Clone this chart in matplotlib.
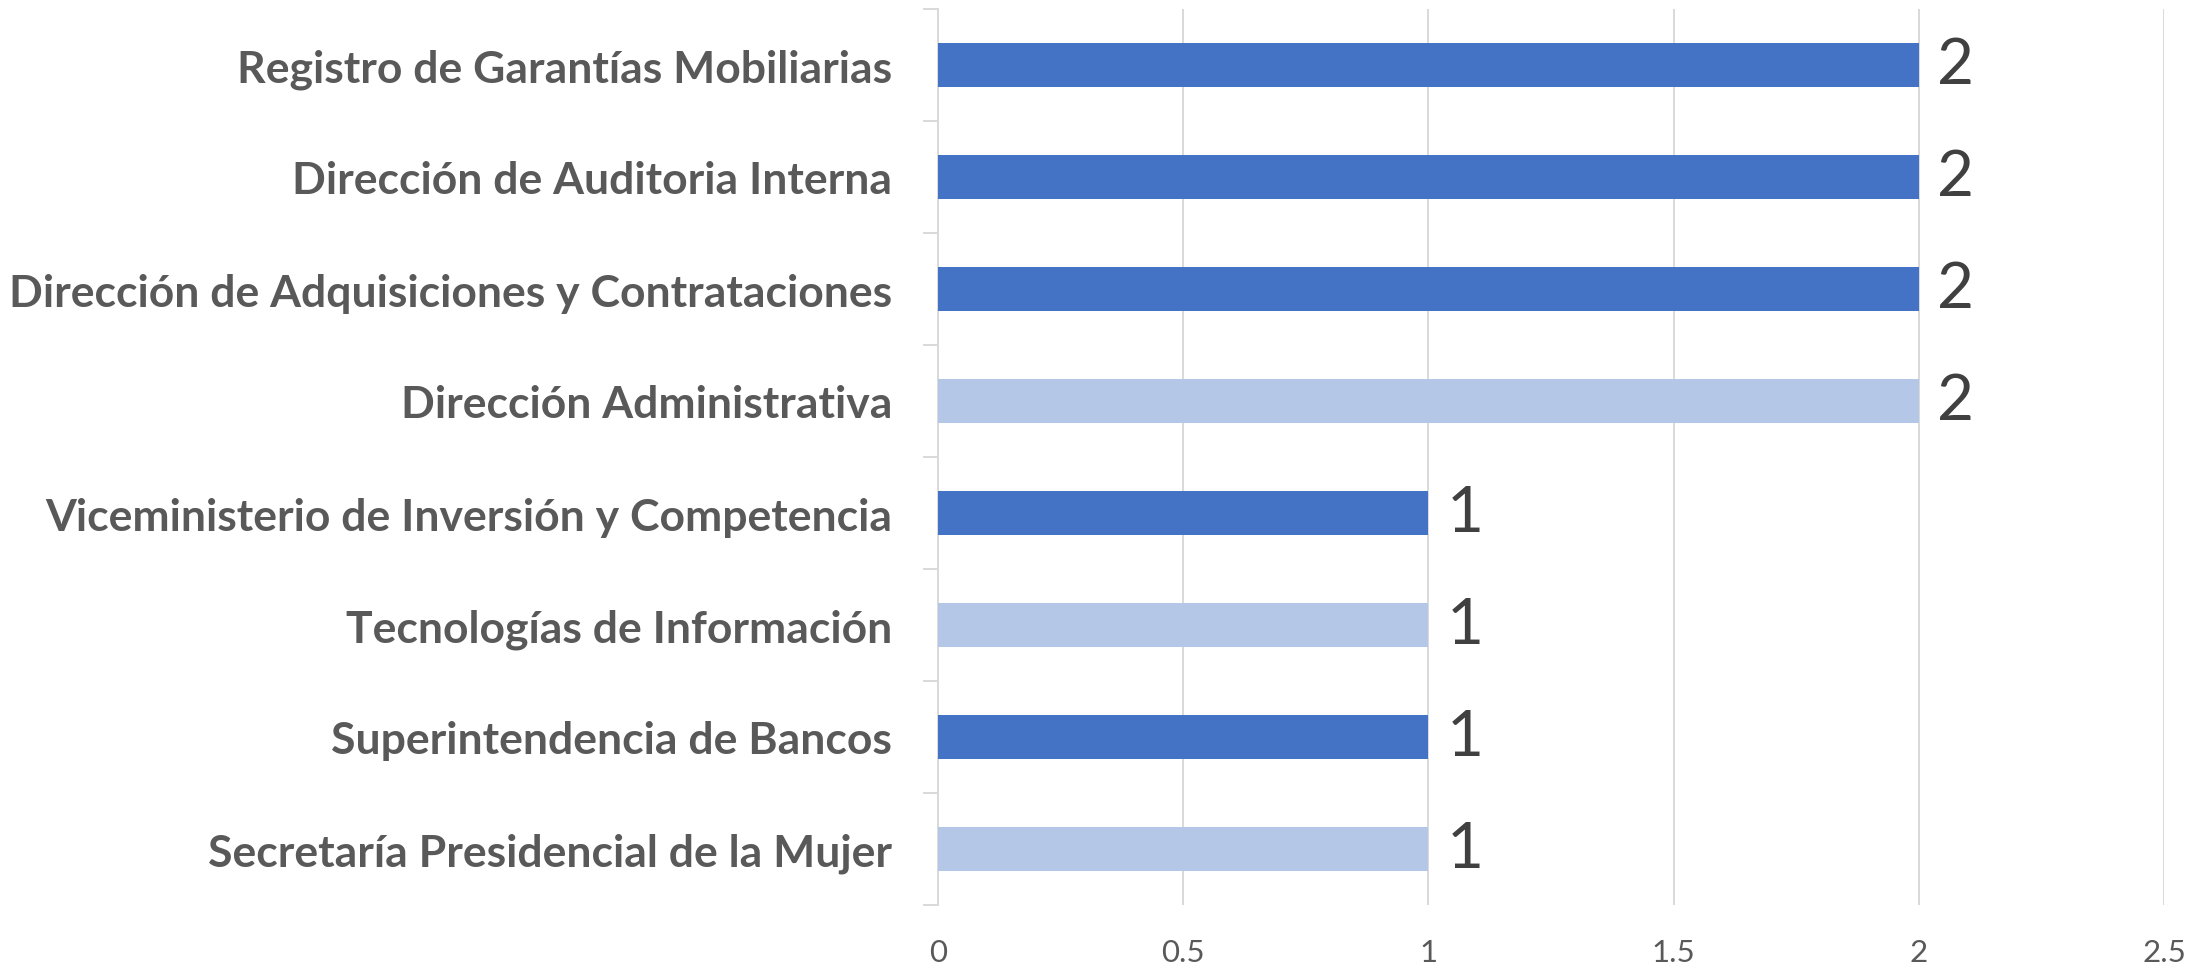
import matplotlib
matplotlib.use("Agg")
import matplotlib.pyplot as plt

categories = [
    "Registro de Garantías Mobiliarias",
    "Dirección de Auditoria Interna",
    "Dirección de Adquisiciones y Contrataciones",
    "Dirección Administrativa",
    "Viceministerio de Inversión y Competencia",
    "Tecnologías de Información",
    "Superintendencia de Bancos",
    "Secretaría Presidencial de la Mujer",
]
values = [2, 2, 2, 2, 1, 1, 1, 1]
shades = ["dark", "dark", "dark", "light", "dark", "light", "dark", "light"]
x_ticks = [0, 0.5, 1, 1.5, 2, 2.5]
x_tick_labels = ["0", "0.5", "1", "1.5", "2", "2.5"]

palette = {"dark": "#4472C4", "light": "#B4C7E7"}
grid_col = "#D9D9D9"

plt.rcParams["font.family"] = ["Lato", "DejaVu Sans"]

fig = plt.figure(figsize=(21.99, 9.70), dpi=100)
ax = fig.add_axes([938 / 2199, (970 - 906) / 970, (2164 - 938) / 2199, (906 - 10) / 970])

ypos = list(range(len(categories)))
ax.barh(ypos, values, height=0.40, color=[palette[s] for s in shades], zorder=3)

for y, v in zip(ypos, values):
    ax.annotate(str(v), xy=(v, y), xytext=(13, 0), textcoords="offset points",
                ha="left", va="center", fontsize=46, color="#404040", zorder=4)

ax.set_xlim(0, 2.5)
ax.set_ylim(len(categories) - 0.5, -0.5)

ax.set_xticks(x_ticks)
ax.set_xticklabels(x_tick_labels, fontsize=22.5, color="#595959")
ax.tick_params(axis="x", length=0, pad=24)

ax.set_yticks(ypos)
ax.set_yticklabels(categories, fontsize=32, fontweight="bold", color="#595959")
ax.tick_params(axis="y", which="major", length=0, pad=33)
ax.set_yticks([i - 0.5 for i in range(len(categories) + 1)], minor=True)
ax.tick_params(axis="y", which="minor", length=11, width=1.4, color=grid_col)

ax.grid(axis="x", color=grid_col, linewidth=1.4, zorder=0)
ax.set_axisbelow(True)
for s in ["top", "right", "bottom"]:
    ax.spines[s].set_visible(False)
ax.spines["left"].set_color(grid_col)
ax.spines["left"].set_linewidth(1.4)

fig.savefig("out.png", dpi=100, facecolor="white")
